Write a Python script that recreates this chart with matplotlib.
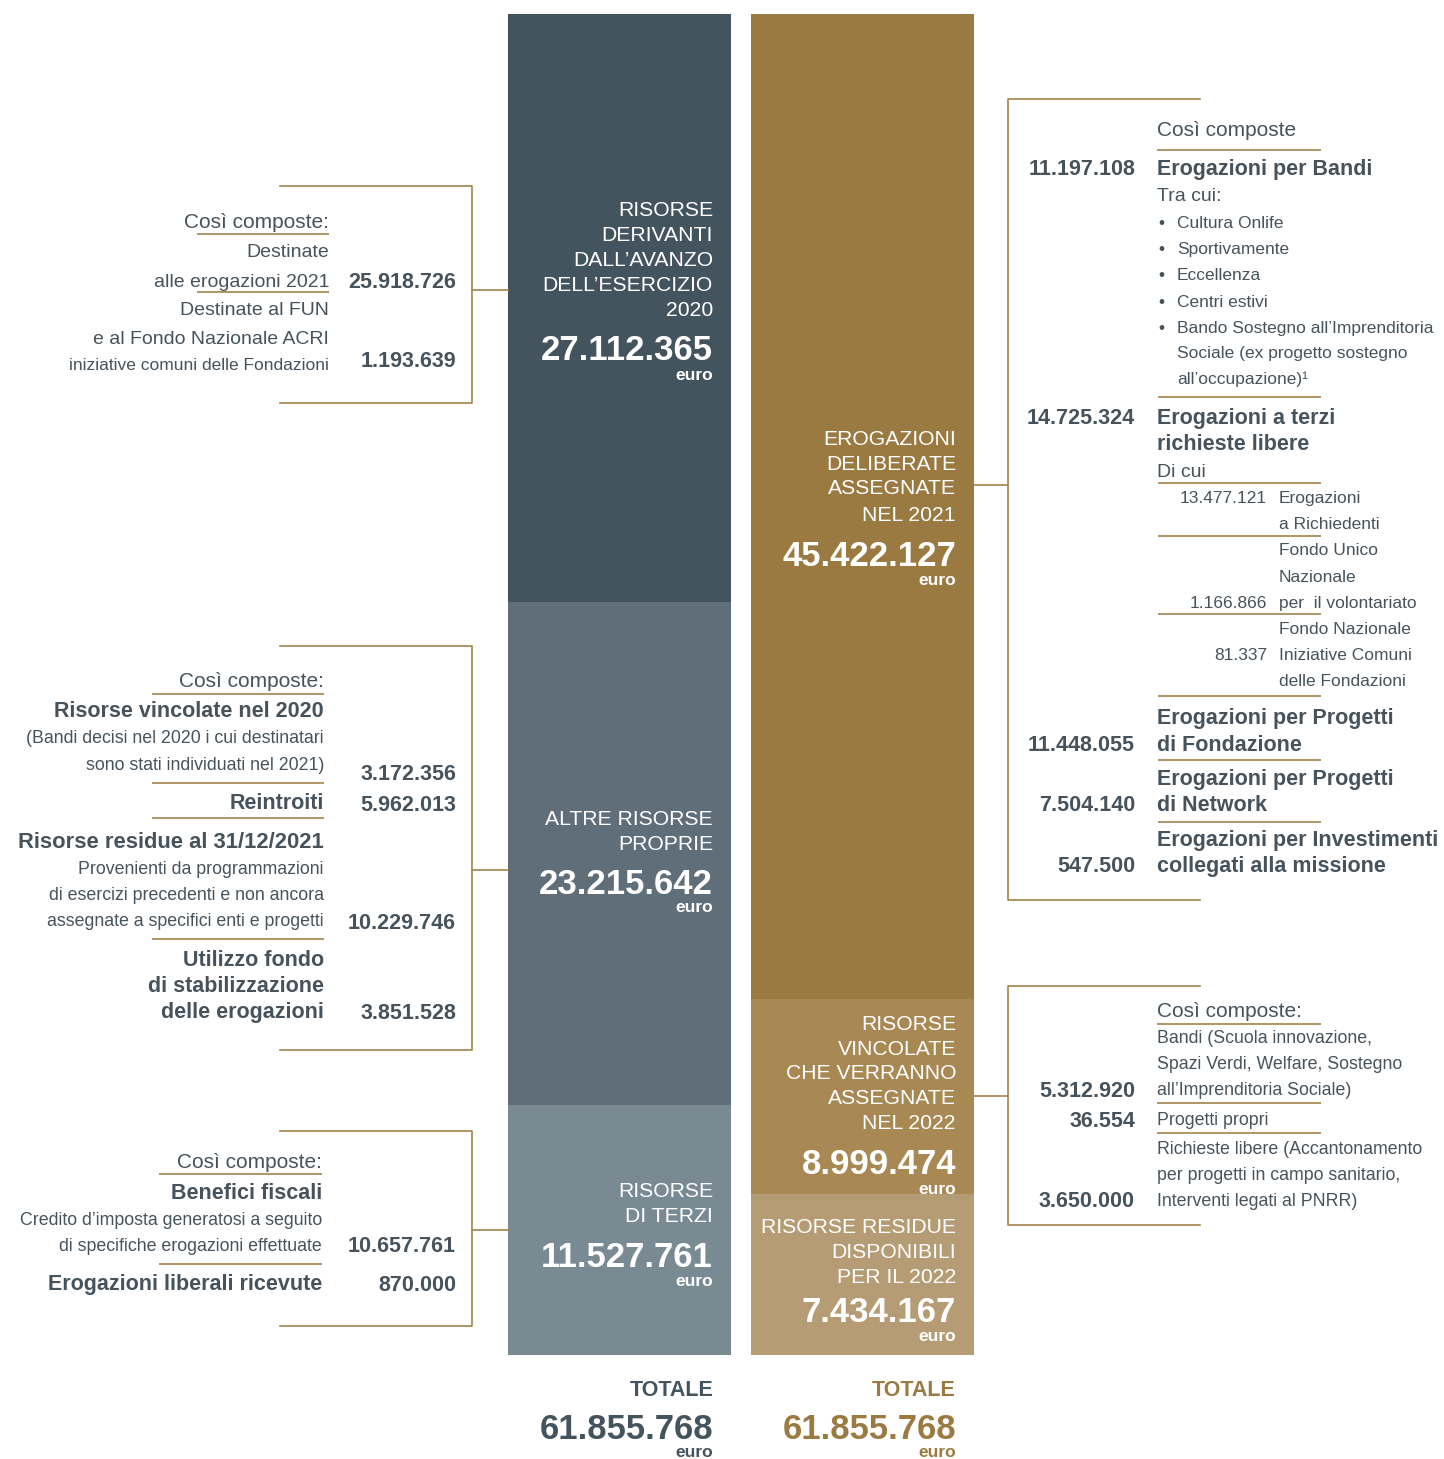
import matplotlib
matplotlib.use("Agg")
import matplotlib.pyplot as plt

plt.rcParams["font.family"] = ["Liberation Sans", "DejaVu Sans"]

# --- data -------------------------------------------------------------
left_labels = ["RISORSE\nDERIVANTI\nDALL\u2019AVANZO\nDELL\u2019ESERCIZIO\n2020",
               "ALTRE RISORSE\nPROPRIE",
               "RISORSE\nDI TERZI"]
left_values = [27112365, 23215642, 11527761]
left_colors = ["#44545e", "#5f6e79", "#7a8a93"]

right_labels = ["EROGAZIONI\nDELIBERATE\nASSEGNATE\nNEL 2021",
                "RISORSE\nVINCOLATE\nCHE VERRANNO\nASSEGNATE\nNEL 2022",
                "RISORSE RESIDUE\nDISPONIBILI\nPER IL 2022"]
right_values = [45422127, 8999474, 7434167]
right_colors = ["#9b7a41", "#a88853", "#b69c74"]

total_value = 61855768

avanzo_items = [25918726, 1193639]
altre_items = [3172356, 5962013, 10229746, 3851528]
terzi_items = [10657761, 870000]
erog_items = [11197108, 14725324, 11448055, 7504140, 547500]
terzi_sub_items = [13477121, 1166866, 81337]
vincolate_items = [5312920, 36554, 3650000]

TXT = "#46535d"
GOLD = "#a3834a"
SMALL = 12.8


def fmt(v):
    return f"{v:,}".replace(",", ".")


fig = plt.figure(figsize=(14.44, 14.59), dpi=100)

# --- stacked bars -----------------------------------------------------
W, H = 1444, 1459
axb = fig.add_axes([508 / W, (H - 1355) / H, 466 / W, 1341 / H])
bw = 223 / 243
for xi, vals, cols in [(0, left_values, left_colors), (1, right_values, right_colors)]:
    bottom = 0
    for v, c in zip(vals, cols):
        axb.bar(xi, v, bottom=bottom, width=bw, color=c, linewidth=0)
        bottom += v
axb.set_xlim(-bw / 2, 1 + bw / 2)
axb.set_ylim(total_value, 0)
axb.axis("off")

# --- overlay in pixel coords -----------------------------------------
ax = fig.add_axes([0, 0, 1, 1])
ax.set_xlim(0, W)
ax.set_ylim(H, 0)
ax.axis("off")


def t(x, y, s, size=14, bold=False, ha="right", color=TXT):
    ax.text(x, y, s, fontsize=size, fontweight="bold" if bold else "normal",
            ha=ha, va="baseline", color=color)


def hl(x0, x1, y, lw=1.2):
    ax.plot([x0, x1], [y, y], color=GOLD, lw=lw, solid_capstyle="butt")


def bracket_left(y0, y1, ym):
    ax.plot([280, 472, 472, 280], [y0, y0, y1, y1], color=GOLD, lw=1.2)
    ax.plot([472, 508], [ym, ym], color=GOLD, lw=1.2)


def bracket_right(y0, y1, ym):
    ax.plot([1200, 1008, 1008, 1200], [y0, y0, y1, y1], color=GOLD, lw=1.2)
    ax.plot([974, 1008], [ym, ym], color=GOLD, lw=1.2)


def bar_block(x, ys, title, value, num_y, euro_y):
    for yy, line in zip(ys, title.split("\n")):
        t(x, yy, line, 15.2, color="white")
    t(x, num_y, fmt(value), 25, bold=True, color="white")
    t(x, euro_y, "euro", 12.5, bold=True, color="white")


# bar texts
bar_block(713, [216, 241, 266, 291, 316], left_labels[0], left_values[0], 360, 380)
bar_block(713, [825, 850], left_labels[1], left_values[1], 894, 912)
bar_block(713, [1197, 1222], left_labels[2], left_values[2], 1267, 1286)
bar_block(956, [445, 470, 494, 521], right_labels[0], right_values[0], 566, 585)
bar_block(956, [1030, 1055, 1079, 1104, 1129], right_labels[1], right_values[1], 1174, 1194)
bar_block(956, [1233, 1258, 1283], right_labels[2], right_values[2], 1322, 1341)

# totals
t(713, 1396, "TOTALE", 15.5, bold=True, color="#44545e")
t(713, 1439, fmt(total_value), 25, bold=True, color="#44545e")
t(713, 1457, "euro", 12.5, bold=True, color="#44545e")
t(956, 1396, "TOTALE", 15.5, bold=True, color="#9b7a41")
t(956, 1439, fmt(total_value), 25, bold=True, color="#9b7a41")
t(956, 1457, "euro", 12.5, bold=True, color="#9b7a41")

# --- left block 1 ------------------------------------------------------
bracket_left(186, 403, 290)
t(329, 228, "Così composte:", 15)
hl(197, 329, 234)
t(329, 257, "Destinate", 14)
t(329, 287, "alle erogazioni 2021", 14)
hl(197, 329, 292)
t(329, 315, "Destinate al FUN", 14)
t(329, 344, "e al Fondo Nazionale ACRI", 14)
t(329, 370, "iniziative comuni delle Fondazioni", 12.5)
t(456, 288, fmt(avanzo_items[0]), 15.5, bold=True)
t(456, 367, fmt(avanzo_items[1]), 15.5, bold=True)

# --- left block 2 ------------------------------------------------------
bracket_left(646, 1050, 870)
t(324, 687, "Così composte:", 15)
hl(152, 324, 694)
t(324, 717, "Risorse vincolate nel 2020", 15.5, bold=True)
t(324, 743, "(Bandi decisi nel 2020 i cui destinatari", SMALL)
t(324, 770, "sono stati individuati nel 2021)", SMALL)
hl(152, 324, 783)
t(324, 809, "Reintroiti", 15.5, bold=True)
hl(152, 324, 818)
t(324, 848, "Risorse residue al 31/12/2021", 15.8, bold=True)
t(324, 874, "Provenienti da programmazioni", SMALL)
t(324, 900, "di esercizi precedenti e non ancora", SMALL)
t(324, 926, "assegnate a specifici enti e progetti", SMALL)
hl(152, 324, 939)
t(324, 966, "Utilizzo fondo", 15.5, bold=True)
t(324, 992, "di stabilizzazione", 15.5, bold=True)
t(324, 1018, "delle erogazioni", 15.5, bold=True)
for yy, v in zip([780, 811, 929, 1019], altre_items):
    t(456, yy, fmt(v), 15.5, bold=True)

# --- left block 3 ------------------------------------------------------
bracket_left(1131, 1326, 1230)
t(322, 1168, "Così composte:", 15)
hl(159, 322, 1174)
t(322, 1199, "Benefici fiscali", 15.5, bold=True)
t(322, 1225, "Credito d\u2019imposta generatosi a seguito", SMALL)
t(322, 1251, "di specifiche erogazioni effettuate", SMALL)
hl(159, 322, 1264)
t(322, 1290, "Erogazioni liberali ricevute", 15.5, bold=True)
t(456, 1252, fmt(terzi_items[0]), 15.5, bold=True)
t(456, 1291, fmt(terzi_items[1]), 15.5, bold=True)

# --- right block 1 -----------------------------------------------------
bracket_right(99, 900, 485)
XL = 1157
t(XL, 136, "Così composte", 15, ha="left")
hl(1157, 1321, 150)
t(XL, 175, "Erogazioni per Bandi", 15.5, bold=True, ha="left")
t(XL, 201, "Tra cui:", 14, ha="left")
bullets = ["Cultura Onlife", "Sportivamente", "Eccellenza", "Centri estivi",
           "Bando Sostegno all\u2019Imprenditoria"]
for i, b in enumerate(bullets):
    yy = 228 + i * 26.2
    t(1158, yy, "\u2022", 12.5, ha="left")
    t(1177, yy, b, 12.5, ha="left")
t(1177, 358, "Sociale (ex progetto sostegno", 12.5, ha="left")
t(1177, 384, "all\u2019occupazione)\u00b9", 12.5, ha="left")
hl(1158, 1321, 397)
t(XL, 424, "Erogazioni a terzi", 15.5, bold=True, ha="left")
t(XL, 450, "richieste libere", 15.5, bold=True, ha="left")
t(XL, 477, "Di cui", 14, ha="left")
hl(1158, 1321, 483)
t(1279, 503, "Erogazioni", 12.5, ha="left")
t(1279, 529, "a Richiedenti", 12.5, ha="left")
hl(1158, 1321, 536)
t(1279, 555, "Fondo Unico", 12.5, ha="left")
t(1279, 582, "Nazionale", 12.5, ha="left")
t(1279, 608, "per  il volontariato", 12.5, ha="left")
hl(1158, 1321, 614)
t(1279, 634, "Fondo Nazionale", 12.5, ha="left")
t(1279, 660, "Iniziative Comuni", 12.5, ha="left")
t(1279, 686, "delle Fondazioni", 12.5, ha="left")
hl(1158, 1321, 696)
for yy, v in zip([503, 608, 660], terzi_sub_items):
    t(1267, yy, fmt(v), 12.5)
t(XL, 724, "Erogazioni per Progetti", 15.5, bold=True, ha="left")
t(XL, 751, "di Fondazione", 15.5, bold=True, ha="left")
hl(1158, 1321, 760)
t(XL, 785, "Erogazioni per Progetti", 15.5, bold=True, ha="left")
t(XL, 811, "di Network", 15.5, bold=True, ha="left")
hl(1158, 1321, 822)
t(XL, 846, "Erogazioni per Investimenti", 15.5, bold=True, ha="left")
t(XL, 872, "collegati alla missione", 15.5, bold=True, ha="left")
for yy, v in zip([175, 424, 751, 811, 872], erog_items):
    t(1135, yy, fmt(v), 15.5, bold=True)

# --- right block 2 -----------------------------------------------------
bracket_right(986, 1225, 1096)
t(XL, 1017, "Così composte:", 15, ha="left")
hl(1157, 1321, 1024)
t(XL, 1043, "Bandi (Scuola innovazione,", SMALL, ha="left")
t(XL, 1069, "Spazi Verdi, Welfare, Sostegno", SMALL, ha="left")
t(XL, 1095, "all\u2019Imprenditoria Sociale)", SMALL, ha="left")
hl(1157, 1321, 1103)
t(XL, 1125, "Progetti propri", SMALL, ha="left")
hl(1157, 1321, 1133)
t(XL, 1154, "Richieste libere (Accantonamento", SMALL, ha="left")
t(XL, 1180, "per progetti in campo sanitario,", SMALL, ha="left")
t(XL, 1206, "Interventi legati al PNRR)", SMALL, ha="left")
for yy, v in zip([1097, 1127, 1207], vincolate_items):
    t(1135, yy, fmt(v), 15.5, bold=True)

fig.savefig("out.png", dpi=100, facecolor="white")
